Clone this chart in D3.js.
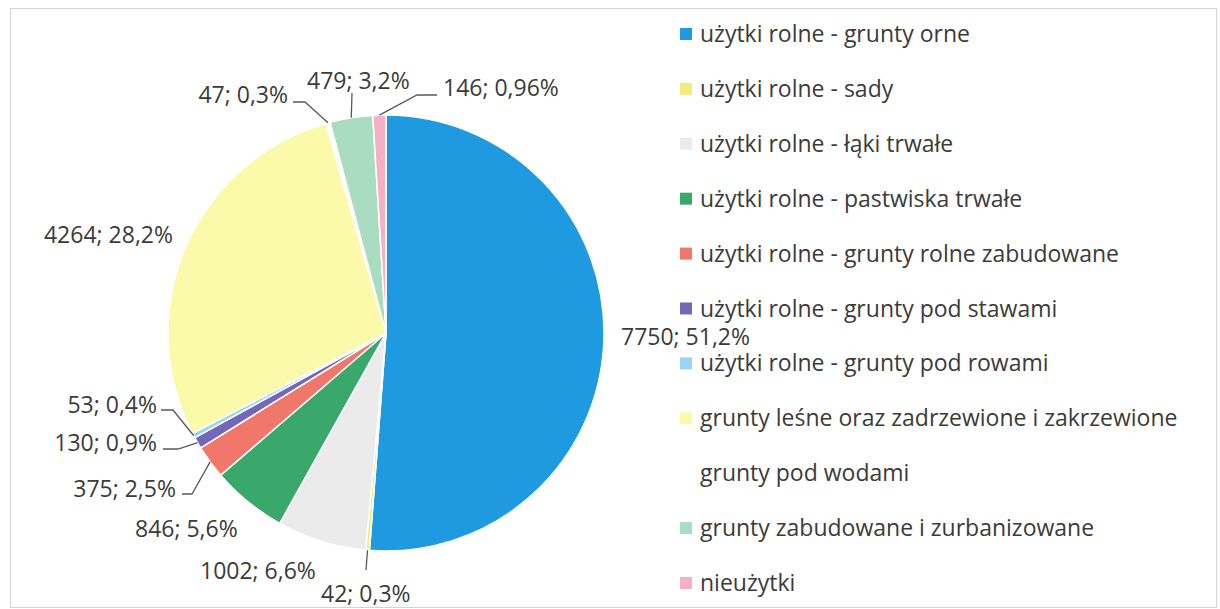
<!DOCTYPE html>
<meta charset="utf-8">
<style>
    body { margin: 0; background: #fff; }
    text { font-family: "Open Sans", Lato, sans-serif; fill: #3b3b3b; }
</style>
<svg width="1220" height="609"></svg>
<script src="https://d3js.org/d3.v7.min.js"></script>
<script>
    // kategorie i wartości (ha)
    const categories = [
        "użytki rolne - grunty orne",
        "użytki rolne - sady",
        "użytki rolne - łąki trwałe",
        "użytki rolne - pastwiska trwałe",
        "użytki rolne - grunty rolne zabudowane",
        "użytki rolne - grunty pod stawami",
        "użytki rolne - grunty pod rowami",
        "grunty leśne oraz zadrzewione i zakrzewione",
        "grunty pod wodami",
        "grunty zabudowane i zurbanizowane",
        "nieużytki"
    ]
    const values = [7750, 42, 1002, 846, 375, 130, 53, 4264, 47, 479, 146]
    const percentLabels = ["51,2%", "0,3%", "6,6%", "5,6%", "2,5%", "0,9%", "0,4%", "28,2%", "0,3%", "3,2%", "0,96%"]
    const colors = ["#1f9ae0", "#f0ed7c", "#ebebeb", "#3aa86b", "#f0776a", "#7466b8",
        "#9ad4f4", "#fbf9aa", "#ffffff", "#a9dcc0", "#f5b0c8"]

    // położenie etykiet danych (x, y środka tekstu) i punkty linii odniesienia
    const labelLayout = [
        { x: 621, y: 337, anchor: "start" },
        { x: 321, y: 594, anchor: "start", leader: [[366, 570]] },
        { x: 200, y: 571, anchor: "start" },
        { x: 135, y: 529, anchor: "start" },
        { x: 176, y: 489, anchor: "end", leader: [[182, 494], [192, 494]] },
        { x: 157, y: 443, anchor: "end", leader: [[163, 449], [178, 449]] },
        { x: 157, y: 405, anchor: "end", leader: [[161, 410], [173, 410]] },
        { x: 173, y: 235, anchor: "end" },
        { x: 288, y: 95, anchor: "end", leader: [[293, 102], [305, 102]] },
        { x: 307, y: 81, anchor: "start", leader: [[352, 93]] },
        { x: 443, y: 88, anchor: "start", leader: [[437, 95], [417, 95]] }
    ]

    const svg = d3.select("svg")
    const width = 1220, height = 609
    const cx = 386, cy = 333, radius = 218

    svg.append("rect")
        .attr("x", 10.5).attr("y", 8.5)
        .attr("width", 1206).attr("height", 599)
        .attr("fill", "#fff")
        .attr("stroke", "#d4d4d4")

    const data = categories.map((c, i) => ({ name: c, value: values[i], pct: percentLabels[i], color: colors[i], i: i }))

    const pie = d3.pie().sort(null).value(d => d.value)
    const arcs = pie(data)
    const arc = d3.arc().innerRadius(0).outerRadius(radius)

    const g = svg.append("g").attr("transform", `translate(${cx},${cy})`)

    g.selectAll("path.slice")
        .data(arcs)
        .enter().append("path")
        .attr("class", "slice")
        .attr("d", arc)
        .attr("fill", d => d.data.color)
        .attr("stroke", "#fff")
        .attr("stroke-width", 1.5)

    // linie odniesienia
    arcs.forEach((a, i) => {
        const lay = labelLayout[i]
        if (!lay.leader) return
        const mid = (a.startAngle + a.endAngle) / 2
        const px = cx + radius * Math.sin(mid)
        const py = cy - radius * Math.cos(mid)
        const pts = lay.leader.concat([[px, py]])
        svg.append("path")
            .attr("d", d3.line()(pts))
            .attr("fill", "none")
            .attr("stroke", "#595959")
            .attr("stroke-width", 1.3)
    })

    // etykiety danych
    svg.selectAll("text.lbl")
        .data(arcs)
        .enter().append("text")
        .attr("class", "lbl")
        .attr("x", (d, i) => labelLayout[i].x)
        .attr("y", (d, i) => labelLayout[i].y)
        .attr("dy", "0.35em")
        .attr("text-anchor", (d, i) => labelLayout[i].anchor)
        .style("font-size", "23px")
        .text(d => d.data.value + "; " + d.data.pct)

    // legenda
    const legendY = d3.scalePoint().domain(categories).range([34, 583])
    const legend = svg.append("g")
    const items = legend.selectAll("g")
        .data(data)
        .enter().append("g")
        .attr("transform", d => `translate(680,${legendY(d.name)})`)
    items.append("rect")
        .attr("x", 0).attr("y", -6)
        .attr("width", 12).attr("height", 12)
        .attr("fill", d => d.color)
    items.append("text")
        .attr("x", 20).attr("y", 0)
        .attr("dy", "0.35em")
        .style("font-size", "23px")
        .text(d => d.name)
</script>
